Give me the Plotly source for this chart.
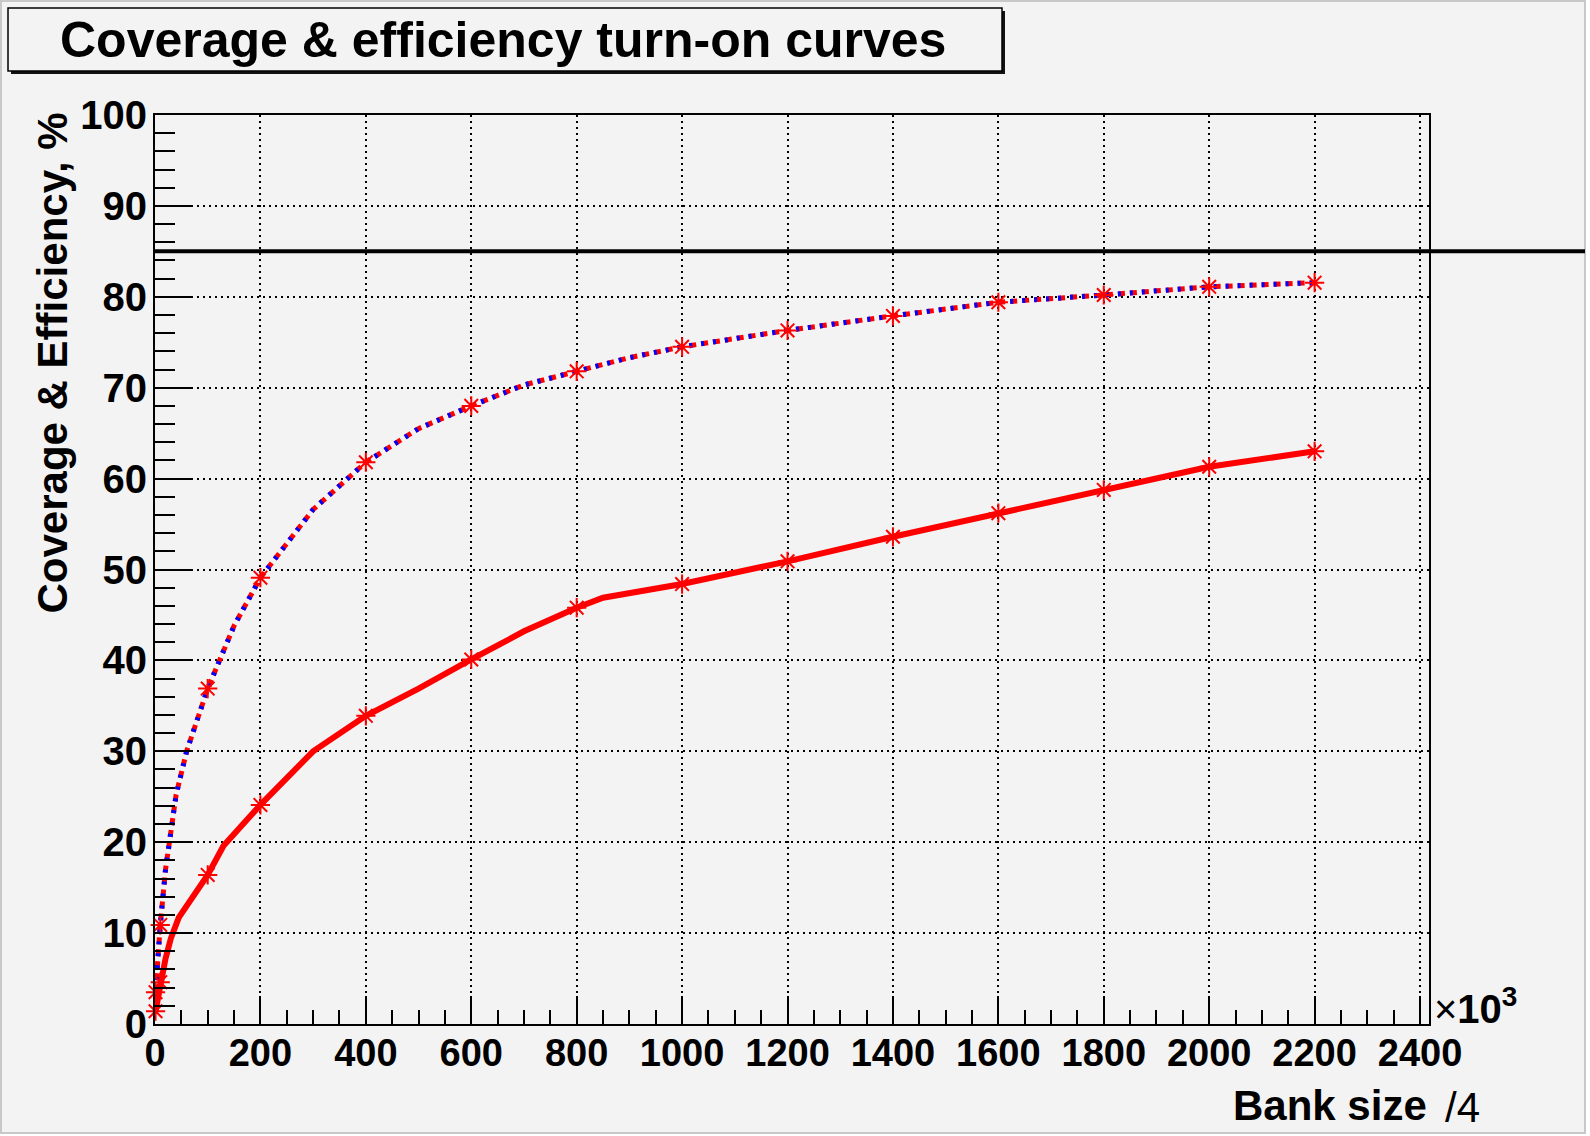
import plotly.graph_objects as go

# ---------------- data ----------------
marker_x = [1, 10, 100, 200, 400, 600, 800, 1000, 1200, 1400, 1600, 1800, 2000, 2200]
coverage_marker_y = [3.5, 10.9, 36.9, 49.1, 61.8, 68.0, 71.8, 74.5, 76.3, 77.9, 79.4, 80.2, 81.1, 81.55]
efficiency_marker_y = [1.4, 4.6, 16.4, 24.1, 33.9, 40.1, 45.8, 48.4, 50.9, 53.6, 56.2, 58.75, 61.3, 63.0]

coverage_x = [1, 10, 20, 30, 40, 60, 100, 150, 200, 300, 400, 500, 600, 700, 800,
              900, 1000, 1200, 1400, 1600, 1800, 2000, 2200]
coverage_y = [3.5, 10.9, 17.0, 21.3, 25.2, 30.0, 36.9, 43.8, 49.1, 56.6, 61.8, 65.5, 68.0,
              70.3, 71.8, 73.3, 74.5, 76.3, 77.9, 79.4, 80.2, 81.1, 81.55]

efficiency_x = [1, 10, 20, 30, 45, 100, 130, 200, 300, 400, 500, 600, 700, 800, 850,
                1000, 1200, 1400, 1600, 1800, 2000, 2200]
efficiency_y = [1.4, 4.6, 7.2, 9.4, 11.7, 16.4, 19.6, 24.1, 30.0, 33.9, 36.9, 40.1, 43.2,
                45.8, 46.9, 48.4, 50.9, 53.6, 56.2, 58.75, 61.3, 63.0]

threshold = 85
x_ticks = [0, 200, 400, 600, 800, 1000, 1200, 1400, 1600, 1800, 2000, 2200, 2400]
y_ticks = [0, 10, 20, 30, 40, 50, 60, 70, 80, 90, 100]
X_RANGE = [0, 2417]
Y_RANGE = [0, 100]

# ---------------- layout geometry (pixels) ----------------
W, H = 1590, 1136
PL, PR, PT, PB = 155, 1429, 115, 1024
BG = "#f3f3f3"
FONT = "Liberation Sans, Arial, sans-serif"


def px(x):
    return (x - PL) / (PR - PL)


def py(y):
    return (PB - y) / (PB - PT)


fig = go.Figure()

fig.add_trace(go.Scatter(x=efficiency_x, y=efficiency_y, mode="lines",
                         line=dict(color="red", width=6), showlegend=False))
fig.add_trace(go.Scatter(x=coverage_x, y=coverage_y, mode="lines",
                         line=dict(color="red", width=5, dash="7px,5px"), showlegend=False))
fig.add_trace(go.Scatter(x=coverage_x, y=coverage_y, mode="lines",
                         line=dict(color="blue", width=5, dash="3px,9px"), showlegend=False))
for ys in (coverage_marker_y, efficiency_marker_y):
    fig.add_trace(go.Scatter(x=marker_x, y=ys, mode="markers",
                             marker=dict(symbol="asterisk-open", size=16,
                                         line=dict(color="red", width=2), color="red"),
                             showlegend=False, cliponaxis=False))

axis_common = dict(showline=True, linecolor="black", linewidth=2, mirror=True,
                   ticks="inside", tickcolor="black", tickwidth=2,
                   showgrid=True, gridcolor="black", gridwidth=1.5, griddash="2px,4px",
                   zeroline=False)

fig.update_xaxes(range=X_RANGE, tickvals=x_ticks, ticklen=28,
                 minor=dict(dtick=50, ticklen=14, tickwidth=2, tickcolor="black",
                            ticks="inside", showgrid=False),
                 ticklabelstandoff=-6,
                 tickfont=dict(family=FONT, size=38, color="black", weight="bold"),
                 **axis_common)
fig.update_yaxes(range=Y_RANGE, tickvals=y_ticks, ticklen=38,
                 minor=dict(dtick=2, ticklen=20, tickwidth=2, tickcolor="black",
                            ticks="inside", showgrid=False),
                 ticklabelstandoff=-2,
                 tickfont=dict(family=FONT, size=40, color="black", weight="bold"),
                 **axis_common)

thr_y = (threshold - Y_RANGE[0]) / (Y_RANGE[1] - Y_RANGE[0])

shapes = [
    # canvas edge
    dict(type="rect", xref="paper", yref="paper", x0=px(1585), x1=px(W), y0=py(0), y1=py(H),
         fillcolor="white", line=dict(width=0), layer="above"),
    dict(type="rect", xref="paper", yref="paper", x0=px(0), x1=px(W), y0=py(1133), y1=py(H),
         fillcolor="white", line=dict(width=0), layer="above"),
    dict(type="rect", xref="paper", yref="paper", x0=px(1), x1=px(1585), y0=py(1), y1=py(1133),
         line=dict(color="#c8c8c8", width=2), layer="above"),
    # threshold line
    dict(type="line", xref="paper", yref="paper", x0=0, x1=px(1585), y0=thr_y, y1=thr_y,
         line=dict(color="black", width=4), layer="above"),
    # title box shadow + box
    dict(type="rect", xref="paper", yref="paper", x0=px(11), x1=px(1005), y0=py(11), y1=py(74),
         fillcolor="#111111", line=dict(width=0), layer="above"),
    dict(type="rect", xref="paper", yref="paper", x0=px(8), x1=px(1002), y0=py(8), y1=py(71),
         fillcolor=BG, line=dict(color="black", width=1.5), layer="above"),
]

annotations = [
    dict(text="Coverage & efficiency turn-on curves", xref="paper", yref="paper",
         x=px(503), y=py(40), xanchor="center", yanchor="middle", showarrow=False,
         font=dict(family=FONT, size=50, color="black", weight="bold")),
    dict(text="Coverage & Efficiency, %", xref="paper", yref="paper",
         x=px(52), y=py(111), xanchor="center", yanchor="top", textangle=-90, showarrow=False,
         font=dict(family=FONT, size=42, color="black", weight="bold")),
    dict(text="Bank size", xref="paper", yref="paper",
         x=px(1429), y=py(1105), xanchor="right", yanchor="middle", showarrow=False,
         font=dict(family=FONT, size=42, color="black", weight="bold")),
    dict(text="/4", xref="paper", yref="paper",
         x=px(1443), y=py(1107), xanchor="left", yanchor="middle", showarrow=False,
         font=dict(family=FONT, size=42, color="black")),
    dict(text="×<b>10<sup>3</sup></b>", xref="paper", yref="paper",
         x=px(1432), y=py(1006), xanchor="left", yanchor="middle", showarrow=False,
         font=dict(family=FONT, size=40, color="black")),
]

fig.update_layout(width=W, height=H, autosize=False,
                  margin=dict(l=PL, r=W - PR, t=PT, b=H - PB, pad=0),
                  paper_bgcolor=BG, plot_bgcolor=BG,
                  shapes=shapes, annotations=annotations, showlegend=False)

fig.write_html("out.html", config={"displayModeBar": False},
               post_script="document.body.style.margin='0';document.body.style.padding='0';")
